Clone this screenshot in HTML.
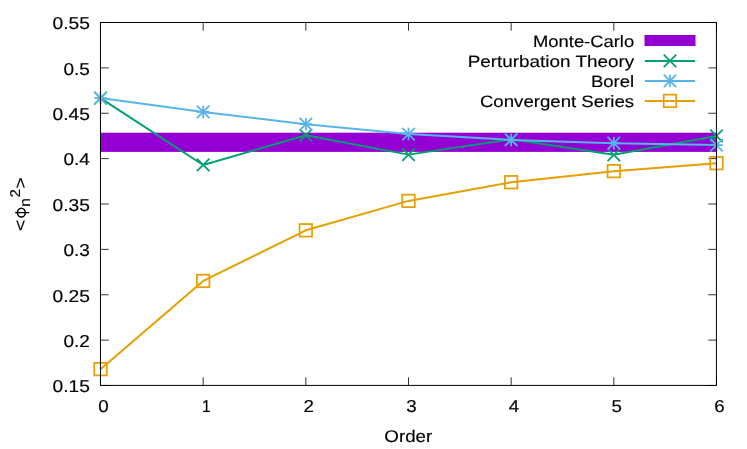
<!DOCTYPE html>
<html><head><meta charset="utf-8"><title>plot</title>
<style>
html,body{margin:0;padding:0;background:#fff;}
body{width:747px;height:449px;overflow:hidden;}
svg{display:block;will-change:transform;}
text{font-family:"Liberation Sans",sans-serif;fill:#000;stroke:#000;stroke-width:0.15px;text-rendering:geometricPrecision;}
</style></head><body>
<svg width="747" height="449" viewBox="0 0 747 449">
<rect x="0" y="0" width="747" height="449" fill="#ffffff"/>
<g stroke="#000" stroke-width="0.8" fill="none">
<path d="M100.5,385.50h8.2M716.5,385.50h-8.2"/>
<path d="M100.5,340.12h8.2M716.5,340.12h-8.2"/>
<path d="M100.5,294.75h8.2M716.5,294.75h-8.2"/>
<path d="M100.5,249.37h8.2M716.5,249.37h-8.2"/>
<path d="M100.5,204.00h8.2M716.5,204.00h-8.2"/>
<path d="M100.5,158.62h8.2M716.5,158.62h-8.2"/>
<path d="M100.5,113.25h8.2M716.5,113.25h-8.2"/>
<path d="M100.5,67.88h8.2M716.5,67.88h-8.2"/>
<path d="M100.5,22.50h8.2M716.5,22.50h-8.2"/>
<path d="M100.50,385.5v-8.2M100.50,22.5v8.2"/>
<path d="M203.17,385.5v-8.2M203.17,22.5v8.2"/>
<path d="M305.83,385.5v-8.2M305.83,22.5v8.2"/>
<path d="M408.50,385.5v-8.2M408.50,22.5v8.2"/>
<path d="M511.17,385.5v-8.2M511.17,22.5v8.2"/>
<path d="M613.83,385.5v-8.2M613.83,22.5v8.2"/>
<path d="M716.50,385.5v-8.2M716.50,22.5v8.2"/>
</g>
<g font-size="17.2" text-anchor="end">
<text x="89.9" y="392.30" textLength="37.4" lengthAdjust="spacingAndGlyphs">0.15</text>
<text x="89.9" y="346.93" textLength="26.4" lengthAdjust="spacingAndGlyphs">0.2</text>
<text x="89.9" y="301.55" textLength="37.4" lengthAdjust="spacingAndGlyphs">0.25</text>
<text x="89.9" y="256.17" textLength="26.4" lengthAdjust="spacingAndGlyphs">0.3</text>
<text x="89.9" y="210.80" textLength="37.4" lengthAdjust="spacingAndGlyphs">0.35</text>
<text x="89.9" y="165.43" textLength="26.4" lengthAdjust="spacingAndGlyphs">0.4</text>
<text x="89.9" y="120.05" textLength="37.4" lengthAdjust="spacingAndGlyphs">0.45</text>
<text x="89.9" y="74.67" textLength="26.4" lengthAdjust="spacingAndGlyphs">0.5</text>
<text x="89.9" y="29.30" textLength="37.4" lengthAdjust="spacingAndGlyphs">0.55</text>
</g>
<g font-size="17.2" text-anchor="middle">
<text x="103.40" y="412.4" textLength="10.4" lengthAdjust="spacingAndGlyphs">0</text>
<text x="206.37" y="412.4" textLength="8.7" lengthAdjust="spacingAndGlyphs">1</text>
<text x="308.73" y="412.4" textLength="10.4" lengthAdjust="spacingAndGlyphs">2</text>
<text x="411.40" y="412.4" textLength="10.4" lengthAdjust="spacingAndGlyphs">3</text>
<text x="514.07" y="412.4" textLength="10.4" lengthAdjust="spacingAndGlyphs">4</text>
<text x="616.73" y="412.4" textLength="10.4" lengthAdjust="spacingAndGlyphs">5</text>
<text x="719.40" y="412.4" textLength="10.4" lengthAdjust="spacingAndGlyphs">6</text>
</g>
<text x="408.3" y="442.3" font-size="16.9" text-anchor="middle" textLength="47.9" lengthAdjust="spacingAndGlyphs">Order</text>
<g transform="translate(26,204) rotate(-90)" font-size="16.5">
<text x="-26.9" y="0" textLength="11.3" lengthAdjust="spacingAndGlyphs">&lt;</text>
<ellipse cx="-8.7" cy="-4.65" rx="4.35" ry="3.9" fill="none" stroke="#000" stroke-width="1.5"/>
<path d="M-8.6,-10.9V3.2" fill="none" stroke="#000" stroke-width="1.3"/>
<text x="-2.7" y="3.8" font-size="14.8" textLength="8.6" lengthAdjust="spacingAndGlyphs">n</text>
<text x="6.5" y="-5.9" font-size="14.2" textLength="8.4" lengthAdjust="spacingAndGlyphs">2</text>
<text x="15.5" y="0" textLength="11.3" lengthAdjust="spacingAndGlyphs">&gt;</text>
</g>
<rect x="100.5" y="132.7" width="616.0" height="19.2" fill="#9400D3"/>
<g font-size="16.5" text-anchor="end">
<text x="634.2" y="47.0" textLength="101.2" lengthAdjust="spacingAndGlyphs">Monte-Carlo</text>
<text x="634.2" y="67.0" textLength="166.5" lengthAdjust="spacingAndGlyphs">Perturbation Theory</text>
<text x="634.2" y="87.0" textLength="43.3" lengthAdjust="spacingAndGlyphs">Borel</text>
<text x="634.2" y="107.0" textLength="154.3" lengthAdjust="spacingAndGlyphs">Convergent Series</text>
</g>
<rect x="644.5" y="35" width="51" height="11" fill="#9400D3"/>
<path d="M644.9,60.9H695.1" stroke="#009E73" stroke-width="2.0" fill="none"/>
<path d="M663.75,54.65L676.25,67.15M676.25,54.65L663.75,67.15" stroke="#009E73" stroke-width="1.75" fill="none"/>
<path d="M644.9,80.9H695.1" stroke="#56B4E9" stroke-width="2.0" fill="none"/>
<path d="M663.75,80.90H676.25M670.00,74.65V87.15M663.75,74.65L676.25,87.15M676.25,74.65L663.75,87.15" stroke="#56B4E9" stroke-width="1.75" fill="none"/>
<path d="M644.9,100.9H695.1" stroke="#E69F00" stroke-width="2.0" fill="none"/>
<rect x="663.75" y="94.65" width="12.50" height="12.50" stroke="#E69F00" stroke-width="1.75" fill="none"/>
<polyline points="100.50,98.09 203.17,164.98 305.83,135.30 408.50,154.63 511.17,139.30 613.83,154.81 716.50,135.94" fill="none" stroke="#009E73" stroke-width="2.0" stroke-linejoin="round"/>
<path d="M94.25,91.84L106.75,104.34M106.75,91.84L94.25,104.34" stroke="#009E73" stroke-width="1.75" fill="none"/>
<path d="M196.92,158.73L209.42,171.23M209.42,158.73L196.92,171.23" stroke="#009E73" stroke-width="1.75" fill="none"/>
<path d="M299.58,129.05L312.08,141.55M312.08,129.05L299.58,141.55" stroke="#009E73" stroke-width="1.75" fill="none"/>
<path d="M402.25,148.38L414.75,160.88M414.75,148.38L402.25,160.88" stroke="#009E73" stroke-width="1.75" fill="none"/>
<path d="M504.92,133.05L517.42,145.55M517.42,133.05L504.92,145.55" stroke="#009E73" stroke-width="1.75" fill="none"/>
<path d="M607.58,148.56L620.08,161.06M620.08,148.56L607.58,161.06" stroke="#009E73" stroke-width="1.75" fill="none"/>
<path d="M710.25,129.69L722.75,142.19M722.75,129.69L710.25,142.19" stroke="#009E73" stroke-width="1.75" fill="none"/>
<polyline points="100.50,98.09 203.17,111.89 305.83,124.23 408.50,134.12 511.17,139.93 613.83,143.20 716.50,145.01" fill="none" stroke="#56B4E9" stroke-width="2.0" stroke-linejoin="round"/>
<path d="M94.25,98.09H106.75M100.50,91.84V104.34M94.25,91.84L106.75,104.34M106.75,91.84L94.25,104.34" stroke="#56B4E9" stroke-width="1.75" fill="none"/>
<path d="M196.92,111.89H209.42M203.17,105.64V118.14M196.92,105.64L209.42,118.14M209.42,105.64L196.92,118.14" stroke="#56B4E9" stroke-width="1.75" fill="none"/>
<path d="M299.58,124.23H312.08M305.83,117.98V130.48M299.58,117.98L312.08,130.48M312.08,117.98L299.58,130.48" stroke="#56B4E9" stroke-width="1.75" fill="none"/>
<path d="M402.25,134.12H414.75M408.50,127.87V140.37M402.25,127.87L414.75,140.37M414.75,127.87L402.25,140.37" stroke="#56B4E9" stroke-width="1.75" fill="none"/>
<path d="M504.92,139.93H517.42M511.17,133.68V146.18M504.92,133.68L517.42,146.18M517.42,133.68L504.92,146.18" stroke="#56B4E9" stroke-width="1.75" fill="none"/>
<path d="M607.58,143.20H620.08M613.83,136.95V149.45M607.58,136.95L620.08,149.45M620.08,136.95L607.58,149.45" stroke="#56B4E9" stroke-width="1.75" fill="none"/>
<path d="M710.25,145.01H722.75M716.50,138.76V151.26M710.25,138.76L722.75,151.26M722.75,138.76L710.25,151.26" stroke="#56B4E9" stroke-width="1.75" fill="none"/>
<polyline points="100.50,369.16 203.17,280.96 305.83,230.32 408.50,200.91 511.17,182.22 613.83,171.15 716.50,163.16" fill="none" stroke="#E69F00" stroke-width="2.0" stroke-linejoin="round"/>
<rect x="94.25" y="362.91" width="12.50" height="12.50" stroke="#E69F00" stroke-width="1.75" fill="none"/>
<rect x="196.92" y="274.71" width="12.50" height="12.50" stroke="#E69F00" stroke-width="1.75" fill="none"/>
<rect x="299.58" y="224.07" width="12.50" height="12.50" stroke="#E69F00" stroke-width="1.75" fill="none"/>
<rect x="402.25" y="194.66" width="12.50" height="12.50" stroke="#E69F00" stroke-width="1.75" fill="none"/>
<rect x="504.92" y="175.97" width="12.50" height="12.50" stroke="#E69F00" stroke-width="1.75" fill="none"/>
<rect x="607.58" y="164.90" width="12.50" height="12.50" stroke="#E69F00" stroke-width="1.75" fill="none"/>
<rect x="710.25" y="156.91" width="12.50" height="12.50" stroke="#E69F00" stroke-width="1.75" fill="none"/>
<rect x="100.45" y="22.46" width="615.97" height="362.94" fill="none" stroke="#000" stroke-width="1"/>
</svg></body></html>
